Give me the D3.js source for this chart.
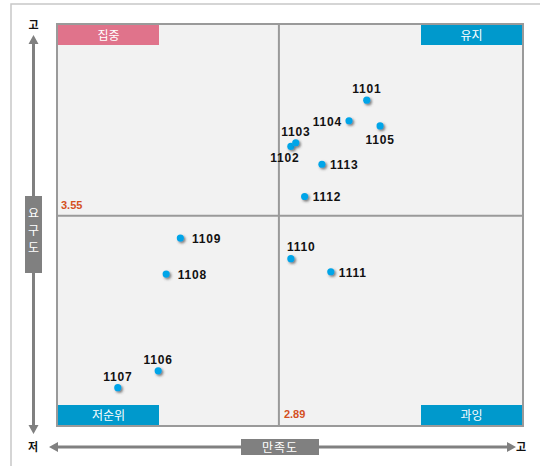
<!DOCTYPE html>
<html>
<head>
<meta charset="utf-8">
<script src="https://cdn.jsdelivr.net/npm/d3@7"></script>
<style>
  body { margin: 0; background: #fff; }
  svg text { font-family: "Malgun Gothic", "Noto Sans CJK KR", sans-serif; }
  svg text.num { font-family: "Liberation Sans", Arial, sans-serif; }
</style>
</head>
<body>
<script>
// chart data
const ids = ["1101", "1102", "1103", "1104", "1105", "1106", "1107", "1108", "1109", "1110", "1111", "1112", "1113"];
const satisfaction = [3.088, 2.917, 2.928, 3.048, 3.118, 2.618, 2.527, 2.636, 2.668, 2.917, 3.007, 2.948, 2.987];
const demand = [3.797, 3.698, 3.706, 3.753, 3.742, 3.218, 3.182, 3.425, 3.502, 3.458, 3.430, 3.591, 3.660];
const xMean = 2.89;
const yMean = 3.55;
const quadrantNames = ["집중", "유지", "저순위", "과잉"];
const xTitle = "만족도";
const yTitle = "요구도";
const highLabel = "고";
const lowLabel = "저";

const W = 540, H = 466;
const svg = d3.select("body").append("svg")
    .attr("width", W)
    .attr("height", H);

const defs = svg.append("defs");
const shadow = defs.append("filter").attr("id", "shadow")
    .attr("x", "-50%").attr("y", "-50%").attr("width", "200%").attr("height", "200%");
shadow.append("feDropShadow")
    .attr("dx", 1.5).attr("dy", 1.5).attr("stdDeviation", 1)
    .attr("flood-color", "#444").attr("flood-opacity", 0.7);

// outer frame
svg.append("rect")
    .attr("x", 11).attr("y", 4)
    .attr("width", W).attr("height", H)
    .attr("fill", "none").attr("stroke", "#c8c8c8").attr("stroke-width", 1.5);

const pLeft = 57, pRight = 523, pTop = 24, pBottom = 426;

const x = d3.scaleLinear().domain([2.39, 3.44]).range([pLeft, pRight]);
const y = d3.scaleLinear().domain([3.10, 3.96]).range([pBottom, pTop]);

// plot background
svg.append("rect")
    .attr("x", pLeft).attr("y", pTop)
    .attr("width", pRight - pLeft).attr("height", pBottom - pTop)
    .attr("fill", "#f2f2f2").attr("stroke", "#9a9a9a").attr("stroke-width", 2);

// mean lines
svg.append("line")
    .attr("x1", x(xMean)).attr("x2", x(xMean))
    .attr("y1", pTop).attr("y2", pBottom)
    .attr("stroke", "#9a9a9a").attr("stroke-width", 2);
svg.append("line")
    .attr("x1", pLeft).attr("x2", pRight)
    .attr("y1", y(yMean)).attr("y2", y(yMean))
    .attr("stroke", "#9a9a9a").attr("stroke-width", 2);

// quadrant tags
const boxW = 101, boxH = 20;
const tags = [
    { name: quadrantNames[0], x: pLeft + 1, y: pTop + 1, color: "#e0738b" },
    { name: quadrantNames[1], x: pRight - 1 - boxW, y: pTop + 1, color: "#0099cc" },
    { name: quadrantNames[2], x: pLeft + 1, y: pBottom - 1 - boxH, color: "#0099cc" },
    { name: quadrantNames[3], x: pRight - 1 - boxW, y: pBottom - 1 - boxH, color: "#0099cc" }
];
const tag = svg.selectAll("g.tag").data(tags).enter().append("g").attr("class", "tag");
tag.append("rect")
    .attr("x", d => d.x).attr("y", d => d.y)
    .attr("width", boxW).attr("height", boxH)
    .attr("fill", d => d.color);
tag.append("text")
    .attr("x", d => d.x + boxW / 2).attr("y", d => d.y + 14.5)
    .attr("text-anchor", "middle")
    .attr("fill", "#fff").attr("font-size", 12)
    .text(d => d.name);

// mean values
svg.append("text")
    .attr("class", "num")
    .attr("x", pLeft + 4).attr("y", y(yMean) - 7)
    .attr("fill", "#d4501e").attr("font-size", 11).attr("font-weight", "bold")
    .text(yMean.toFixed(2));
svg.append("text")
    .attr("class", "num")
    .attr("x", x(xMean) + 5).attr("y", pBottom - 8)
    .attr("fill", "#d4501e").attr("font-size", 11).attr("font-weight", "bold")
    .text(xMean.toFixed(2));

// axis arrows
const axisColor = "#808080";
svg.append("line")
    .attr("x1", 33.5).attr("x2", 33.5).attr("y1", 44).attr("y2", 426)
    .attr("stroke", axisColor).attr("stroke-width", 3);
svg.append("path")
    .attr("d", "M33.5,35 L28.5,44 L38.5,44 Z M33.5,434 L28.5,425 L38.5,425 Z")
    .attr("fill", axisColor);
svg.append("line")
    .attr("x1", 58).attr("x2", 507).attr("y1", 447).attr("y2", 447)
    .attr("stroke", axisColor).attr("stroke-width", 3);
svg.append("path")
    .attr("d", "M49,447 L58,442 L58,452 Z M516,447 L507,442 L507,452 Z")
    .attr("fill", axisColor);

// axis title boxes
svg.append("rect")
    .attr("x", 25).attr("y", 196).attr("width", 17).attr("height", 77)
    .attr("fill", axisColor);
svg.append("text")
    .attr("x", 33.5).attr("y", 218)
    .attr("text-anchor", "middle").attr("fill", "#fff").attr("font-size", 12)
    .selectAll("tspan").data(yTitle.split("")).enter().append("tspan")
    .attr("x", 33.5).attr("dy", (d, i) => i === 0 ? 0 : 17)
    .text(d => d);
svg.append("rect")
    .attr("x", 241).attr("y", 439).attr("width", 78).attr("height", 16)
    .attr("fill", axisColor);
svg.append("text")
    .attr("x", 280).attr("y", 452)
    .attr("text-anchor", "middle").attr("fill", "#fff").attr("font-size", 12)
    .attr("letter-spacing", 1)
    .text(xTitle);

// high / low marks
const marks = [
    { t: highLabel, x: 33.5, y: 29 },
    { t: lowLabel, x: 33, y: 451 },
    { t: highLabel, x: 521, y: 451 }
];
svg.selectAll("text.mark").data(marks).enter().append("text")
    .attr("class", "mark")
    .attr("x", d => d.x).attr("y", d => d.y)
    .attr("text-anchor", "middle").attr("font-size", 11).attr("font-weight", "bold")
    .attr("fill", "#111")
    .text(d => d.t);

// points
const points = ids.map((id, i) => ({ id, sx: satisfaction[i], dy: demand[i] }));

svg.selectAll("circle.pt").data(points).enter().append("circle")
    .attr("class", "pt")
    .attr("cx", d => x(d.sx)).attr("cy", d => y(d.dy))
    .attr("r", 3.6)
    .attr("fill", "#00a5e8")
    .attr("filter", "url(#shadow)");

// label placement around each point
const labelSide = {
    "1101": "top", "1102": "bottomLeft", "1103": "top", "1104": "left", "1105": "bottom",
    "1106": "top", "1107": "top", "1108": "rightFar", "1109": "rightFar", "1110": "topStart",
    "1111": "right", "1112": "right", "1113": "right"
};
function labelAttrs(d) {
    const px = x(d.sx), py = y(d.dy);
    switch (labelSide[d.id]) {
        case "top": return { x: px, y: py - 7, a: "middle" };
        case "topStart": return { x: px - 4, y: py - 7.5, a: "start" };
        case "bottom": return { x: px, y: py + 18, a: "middle" };
        case "bottomLeft": return { x: px - 6, y: py + 16, a: "middle" };
        case "left": return { x: px - 7, y: py + 5, a: "end" };
        case "rightFar": return { x: px + 11.5, y: py + 5, a: "start" };
        default: return { x: px + 8, y: py + 5, a: "start" };
    }
}
svg.selectAll("text.lbl").data(points).enter().append("text")
    .attr("class", "lbl num")
    .each(function(d) {
        const p = labelAttrs(d);
        d3.select(this).attr("x", p.x).attr("y", p.y).attr("text-anchor", p.a);
    })
    .attr("font-size", 12).attr("font-weight", "bold")
    .attr("letter-spacing", 0.8)
    .attr("fill", "#111")
    .text(d => d.id);
</script>
</body>
</html>
